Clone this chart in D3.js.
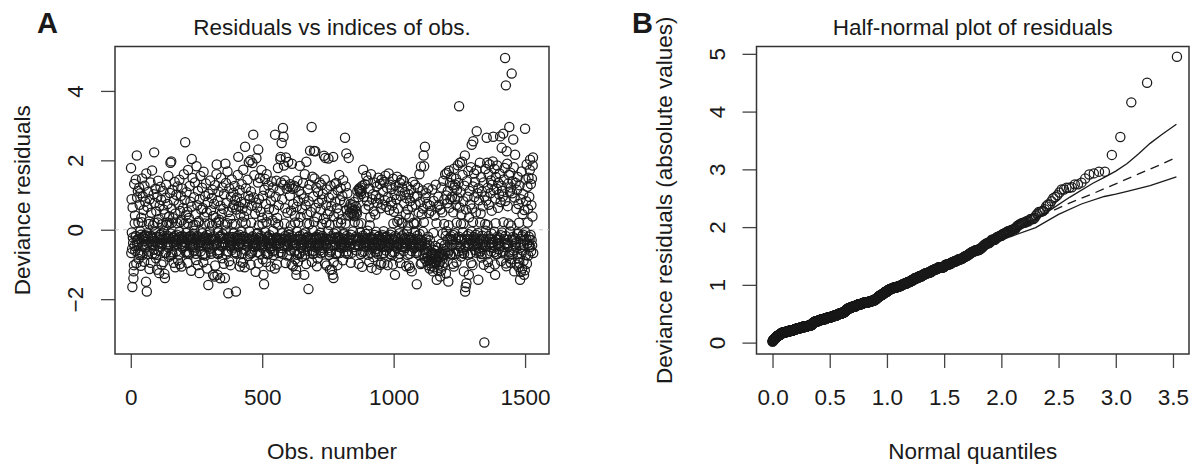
<!DOCTYPE html>
<html>
<head>
<meta charset="utf-8">
<script src="https://cdn.jsdelivr.net/npm/d3@7"></script>
<style>
  body { margin: 0; background: #fff; }
  svg text { font-family: "Liberation Sans", Arial, Helvetica, sans-serif; fill: #1a1a1a; }
</style>
</head>
<body>
<svg id="chart" width="1192" height="468"></svg>
<script>

let residuals = [
 1.78,-.67,.88,-.08,-.55,-1.65,.64,-.22,-.38,-1.4,-1.2,-1.02,1.32,-.47,.19,.41,-.61,-.18,1.45,-.19,-.97,-.33,2.14,.93,-.44,-.27,1.12,-.66,.21,-.84,
 -.36,1.21,-.25,.72,-.73,-.05,1.05,-1.04,-.14,.35,-.66,.22,1.48,-.73,-.2,.96,-.22,-.45,.57,-.33,-.92,1.27,-.18,-.51,.81,-.16,-.27,-1.5,1.62,-.43,
 -1.78,-.1,.66,-.71,-.21,1.09,-.39,-.63,.24,.17,-1.13,.88,-.35,-.17,1.36,-.95,-.41,.49,-.26,-.19,1.71,-.69,-.23,.12,-.45,-.33,1.02,-.57,2.23,.2,
 .77,-.69,-.07,1.18,-.36,-.82,.53,-.2,-.72,-1.15,.95,.21,-.4,1.41,-.25,-.61,.31,-1.25,-.21,.69,-.15,-.49,1.24,-.13,-.28,.86,-1.0,-.42,.16,-.3,
 -.39,1.12,-.27,-.93,.58,-.04,-.19,-1.27,.45,-1.39,-.66,.92,-.24,-.66,1.3,.13,-.45,.21,-.17,.74,-.5,-.36,1.55,-.22,-.78,.39,.18,-.43,1.06,-.26,
 1.93,-.11,-.73,1.97,.61,.2,-.65,1.15,-.71,-.23,.33,-.37,-.95,.84,-.22,-.45,1.38,-.18,-1.08,.47,-.33,-.27,1.01,-.62,-.14,.19,-.42,1.25,-.31,-.88,
 -.25,.73,-.71,-.06,1.44,-.21,-.99,.54,.22,-.41,.98,-.28,-1.06,.27,-.19,1.19,-.52,-.24,.63,-.35,-.47,1.6,.17,-.2,.86,-.43,2.52,-.36,-.64,.42,
 -.09,1.08,-.69,-.27,.52,-.96,.19,1.72,-.22,-.65,.34,-.69,-.29,1.26,-.48,-.2,.81,-.17,-.39,-1.18,.66,2.04,-.31,-.5,1.49,-.26,-.42,.13,-.6,-.12,
 .94,-.03,-.24,1.36,-.51,.14,.45,-.69,-.87,1.83,-.28,-.18,.71,-.21,-1.02,1.12,-.4,.21,.25,-.46,-1.25,.89,-.34,-.25,1.55,-.62,-.37,.58,-.29,-.43,
 1.21,-.1,-.72,.62,-.26,-.94,1.67,-.39,-.2,.37,-.7,.18,.97,-.74,-.23,1.33,-.28,-.42,.5,-.15,-1.12,-.24,.79,-.49,-1.59,1.04,-.3,-.41,.18,-.55,
 -.05,1.42,-.29,-.63,.56,-.69,-.22,.91,.12,-.51,1.15,-.27,-1.3,.4,-.19,-.46,.75,-1.35,-.31,1.28,-1.03,-.25,.35,-.42,.2,1.6,1.88,-.38,-.68,-1.3,
 .83,-.08,-.7,1.1,.22,-.59,.29,-.65,-.21,-1.4,.69,-.17,1.5,-.48,-.26,.47,-.37,-.82,1.22,-.13,-.44,.6,-.24,-.98,1.03,-.36,-.41,-1.39,.15,1.9,
 -.02,1.35,-.71,-.27,.77,-.62,.19,1.68,-.23,-.43,-1.83,.51,-.2,-.91,1.19,-.35,-.25,.32,-.47,-1.02,.95,-.29,-.39,1.45,-.58,.17,.64,-.21,-.45,1.07,
 -.11,.72,-.51,-.28,1.26,-.65,.85,.17,-.66,-1.78,.58,-.24,-.69,.93,-.18,-.3,1.58,-.49,2.1,-.26,.67,-.41,-.14,1.14,-1.06,-.23,.44,-.38,-.92,.8,
 -.06,1.31,-.7,.23,.61,-.27,-.95,1.73,-.21,-.41,.38,-.2,-1.08,.76,2.39,-.43,.18,1.2,-.6,-.37,.55,-.25,-.48,1.44,-.33,-.76,.98,-.4,1.95,-.29,
 -.04,.89,-.71,-.27,2.0,-1.01,1.1,.2,-.67,.69,-.22,-.63,1.92,-.19,-.47,2.74,.93,-.3,-.39,1.57,-.25,-.5,.46,-.36,-1.21,.78,-.28,2.06,-.44,-.12,
 .64,-.65,-.09,1.36,2.31,-.97,.13,.88,-.46,-.24,1.49,-.37,-.69,.52,-.18,-.43,1.72,-.26,-.51,.35,.17,-.85,.98,-.28,-1.3,-.41,-1.57,1.15,-.33,-.47,
 1.46,-.07,-.67,.74,-.93,.22,1.6,-.22,-.7,.41,-.2,-.71,1.28,-.38,-.27,.6,-.49,-.16,1.05,-.24,-.55,-1.06,.84,-.4,-.31,1.39,-.46,-.29,.27,-.62,
 -.03,1.22,-.73,-.26,.57,-.39,-.6,-1.12,2.74,.19,.95,-.44,-.23,1.41,-.22,-1.0,.34,-.28,-.41,1.78,.15,-.67,.71,-.3,-.46,1.13,-.38,-.25,2.03,2.1,
 -.65,1.36,-.29,2.5,-.53,.88,-.1,-.69,2.93,1.3,2.68,-.26,1.85,-.47,.18,1.42,.62,-.18,-.96,2.08,-.22,-.42,1.18,-.34,-.74,.49,-.28,-.45,1.95,-.14,
 -.06,1.25,-.73,-.27,.98,-.39,1.31,-.6,.12,.55,-.24,-1.0,1.9,-.42,-.19,1.18,-1.04,.74,-.37,-.45,1.27,-.29,-.63,.4,.21,-.85,1.22,-.43,-1.15,-1.3,
 .66,-.05,-.72,1.41,-.27,-.92,.83,.2,-.21,1.12,-.69,-.69,1.84,-.17,-.4,.37,-.26,-.52,1.02,-.36,-.78,.59,-.29,-.45,1.35,-.13,-.6,.9,-.41,-1.3,
 -.28,1.6,-.71,-.08,.71,-.24,-.99,1.96,-.39,.19,.44,-.5,-.2,1.17,-.27,-1.71,.82,-.43,.16,1.3,-.62,2.28,-.25,-.4,.51,-.47,-.31,2.96,-.92,-.38,
 1.53,-.02,-.7,.96,-.23,-.61,2.27,.23,1.48,-.29,-.5,2.26,.63,-.66,-.21,1.22,-.26,-1.05,.36,-.44,-.83,1.08,-.15,-.28,.77,-.48,-.39,1.36,-.22,-.6,
 -.09,.58,-.68,-.26,1.29,-.52,.17,.87,-.18,-.45,1.03,-.65,-.24,.31,2.13,-.39,-.34,1.45,-.97,2.07,-.28,-.46,.71,.2,-1.03,1.16,-.4,-.27,.45,-.53,
 -.04,2.05,-.29,.92,-.72,.14,.54,-1.15,-.65,1.27,-.25,-.6,.68,-.19,-1.15,-.44,1.01,-1.3,-.27,2.1,-1.39,-.94,.39,-.11,1.31,-.46,-.23,.81,-.37,-.7,
 1.35,-.07,-.67,.62,-.26,-1.02,1.14,.21,-.2,.47,-.49,-.22,1.58,-.36,-.67,.85,-.41,-.29,1.2,.19,-.52,.3,-.25,-.44,.97,-.37,-.88,1.43,-.13,-.47,
 -.1,.79,-.26,-.5,2.65,-.39,.18,1.25,-.68,2.2,.58,-.18,-.62,1.05,-.28,-.7,.41,-.37,2.07,-.23,.65,-.48,-.31,.5,-.4,.74,-.95,-.14,.45,-.29,
 .62,-.66,.48,.71,-.05,.55,-.27,.43,-.5,.8,.39,.22,.58,-.44,-.25,.67,-.2,.52,-.6,.46,-.31,1.12,-.42,-.28,.94,.17,-.98,1.18,-.24,-.46,
 1.15,1.08,-.08,1.22,-.7,1.03,.19,1.12,-.29,-1.07,1.27,-.65,-.17,1.73,-.23,-.48,.95,-.36,-.62,1.31,-.27,-.43,.6,-.12,-.5,1.55,-.38,-.25,.82,-.44,
 -.03,1.42,-.72,-.28,.7,-.39,-.93,1.19,.13,-.41,.36,-.24,-.66,1.6,-.21,-1.1,-.45,.88,-.29,-.52,1.02,-.37,-.79,.53,-.26,-.43,1.36,-.15,-.48,.44,
 -.65,.98,-.06,-.55,-1.15,1.25,-.36,-.69,.77,-.27,-.62,1.5,-.2,-.19,.9,-.47,-.25,1.32,-.41,-1.01,.62,-.31,-.96,1.44,-.37,-.29,.73,-.5,-.16,1.1,
 -.67,-.04,1.38,-.97,-.36,.85,-.21,-.47,1.56,-.24,-.6,.66,-.39,-.2,1.21,-.45,-1.02,.94,-.3,-.51,1.62,-.37,-.27,.57,-.44,-.7,1.3,-.14,-.41,.81,
 -.07,1.17,-.73,-.26,.7,-.65,-1.0,1.47,.18,-.43,.52,-.29,-.64,1.0,-1.3,-.18,1.28,-.46,-.23,.88,-.36,-.52,1.53,.23,-.42,.61,-.27,-.8,1.12,-.39,
 .29,-.69,-.1,1.35,-.96,-.25,.97,-.41,1.44,.2,-.5,1.22,-.19,.19,-.46,-.28,1.41,-.62,-.13,.76,-.4,-.24,1.08,-.53,-.36,.44,-.29,-1.05,.91,-.43,
 -.05,1.25,-.72,.58,.12,-.27,1.02,-1.03,-.21,.35,-.69,-1.1,.83,-.3,-.41,1.15,-.24,-.61,-1.2,.66,-.36,-.48,1.38,-.29,-.4,.2,-.53,.17,.95,-.45,
 1.3,-.08,-.28,.72,-.5,-.67,.21,-1.57,.98,-.17,-.63,1.21,-.26,-.46,.5,-.38,-.73,1.6,-.12,-.44,.8,-.29,-.99,1.82,-.4,-.95,.44,-.32,-.48,1.13,
 -.06,.61,-.7,2.14,.22,1.83,-.58,-.83,2.39,-.41,.92,-.27,-.67,1.05,-.9,-.38,-.52,.74,-.79,-1.02,-.2,1.2,-.61,-.88,.48,-.45,-1.12,-.3,.69,-.96,
 -.73,-.85,.55,-1.05,-.67,-.91,1.16,-.66,-.78,-1.2,-.09,.83,-.97,-.58,-1.08,.41,-.82,-.47,-.7,1.3,-.93,-.61,.19,-1.44,-.87,.66,-1.16,-.52,-.76,.95,
 -.8,-1.0,-.7,.72,-.68,-.92,-1.35,.58,-.77,-1.18,-.4,1.22,-.63,-.86,.5,-1.06,-.11,-.74,1.41,-.55,-.95,.17,.87,-.7,-.44,1.6,-.62,-.18,-1.26,.99,
 -.04,1.64,.76,-.5,-.28,1.12,-.67,-1.49,.13,1.7,.63,-.6,-.25,1.35,-.71,.88,-.19,-.71,1.52,-.3,-.44,.95,-.27,1.28,-.98,-.15,.5,-.42,-1.06,1.76,
 1.22,-.1,.88,1.3,-.7,-.28,1.47,.71,-.94,.2,1.15,-.41,.93,1.86,-.25,-.62,1.35,-.2,3.56,-.47,.64,1.93,-.3,-.51,1.08,.17,-.77,.44,-.27,1.96,
 -.67,1.58,-.07,-.6,.82,.18,-1.2,-.69,1.27,-.29,2.14,-1.78,-.5,-1.65,.58,-.38,-1.54,1.4,-.18,-.26,.95,-.47,-.72,1.69,-.13,-1.3,.36,-.41,1.12,-.3,
 .73,-.68,-.28,1.8,-.96,-.05,2.45,.61,-.4,-1.02,1.25,.22,2.55,-.47,-.21,1.62,.94,-.25,-.58,1.38,-.42,-.14,.5,-.66,1.72,2.84,-.29,-.45,1.05,-.38,
 -.09,-1.44,1.2,-.52,.85,-.29,-.66,1.93,.21,-.62,.47,-.26,1.51,-.7,-.8,1.1,-.17,-.5,.68,-.4,-.28,1.36,-1.01,-.35,-3.25,.96,-.43,.17,1.75,-.48,
 -.03,.84,-.27,2.65,-.71,1.93,.14,1.21,-.93,-.19,1.6,.72,-.41,-1.1,1.88,-.25,-.5,1.05,-.37,1.42,-.63,-.11,.55,1.3,-.44,-.28,1.97,-.36,2.68,-.52,
 1.14,-.65,-.06,1.75,-1.0,-1.3,.9,.19,1.52,-.27,-.71,1.18,-.7,1.85,-.2,-.42,.63,1.35,-.29,-.56,1.02,-.38,1.62,-.25,2.69,-.47,.8,-.16,-.9,1.27,
 2.36,-.08,1.12,-.68,.96,-.62,2.77,.22,1.45,-.27,-.5,1.78,-.41,4.95,.83,-.18,4.16,-.97,-1.05,2.26,-.38,1.9,-.29,.68,-.46,1.33,.18,-.75,1.58,2.96,
 -.65,1.1,-.05,1.64,-.95,1.22,.12,-.85,4.5,-.28,1.05,-.71,1.4,-.21,2.6,-.6,1.8,-.3,-1.2,.93,-.42,2.16,-.26,1.35,-.51,-.37,.6,-1.0,1.15,-.12,
 -.7,1.52,-.82,-.1,.74,-1.08,.2,-.95,1.28,-.52,-1.44,-.27,.88,-1.22,-.4,-.7,1.68,-.19,-1.12,.45,-.6,-.14,1.02,-.9,-.44,-1.3,.57,-.29,-1.17,2.91,
 -.07,1.45,-.73,.82,-.27,1.88,-.98,-.4,1.24,.21,.6,-.74,1.5,-.2,-.44,.95,-.29,1.72,2.02,-.5,-.15,1.32,-.62,.71,-.3,1.47,-.45,.38,1.85,2.08,-.67
];

// Simulated envelope of the half-normal plot
let envUpperQ = [2.0, 2.2, 2.4, 2.6, 2.8, 2.9, 3.0, 3.1, 3.2, 3.3, 3.4, 3.53];
let envUpper  = [1.80, 2.02, 2.26, 2.52, 2.76, 2.86, 2.97, 3.10, 3.27, 3.45, 3.60, 3.78];
let envMidQ   = [2.0, 2.2, 2.4, 2.6, 2.8, 3.0, 3.2, 3.4, 3.53];
let envMid    = [1.80, 2.04, 2.24, 2.42, 2.58, 2.75, 2.92, 3.09, 3.21];
let envLowerQ = [2.0, 2.1, 2.3, 2.5, 2.7, 2.9, 3.0, 3.1, 3.3, 3.53];
let envLower  = [1.78, 1.85, 1.99, 2.22, 2.40, 2.53, 2.57, 2.62, 2.72, 2.87];

// Tick labels
let ticksA_x = [0, 500, 1000, 1500];
let ticksA_y = [-2, 0, 2, 4];
let ticksB_x = [0, 0.5, 1, 1.5, 2, 2.5, 3, 3.5];
let ticksB_y = [0, 1, 2, 3, 4, 5];

let svg = d3.select("#chart");
svg.append("rect").attr("width", 1192).attr("height", 468).attr("fill", "#fff");

let ink = "#1a1a1a";
let fs = "22.5px";

// inverse normal cdf (Acklam), used for the half-normal quantiles
function qnorm(p) {
    let a = [-3.969683028665376e+01, 2.209460984245205e+02, -2.759285104469687e+02, 1.383577518672690e+02, -3.066479806614716e+01, 2.506628277459239e+00];
    let b = [-5.447609879822406e+01, 1.615858368580409e+02, -1.556989798598866e+02, 6.680131188771972e+01, -1.328068155288572e+01];
    let c = [-7.784894002430293e-03, -3.223964580411365e-01, -2.400758277161838e+00, -2.549732539343734e+00, 4.374664141464968e+00, 2.938163982698783e+00];
    let d = [7.784695709041462e-03, 3.224671290700398e-01, 2.445134137142996e+00, 3.754408661907416e+00];
    let q, r;
    if (p < 0.02425) {
        q = Math.sqrt(-2 * Math.log(p));
        return (((((c[0]*q+c[1])*q+c[2])*q+c[3])*q+c[4])*q+c[5]) / ((((d[0]*q+d[1])*q+d[2])*q+d[3])*q+1);
    }
    if (p <= 1 - 0.02425) {
        q = p - 0.5; r = q * q;
        return (((((a[0]*r+a[1])*r+a[2])*r+a[3])*r+a[4])*r+a[5])*q / (((((b[0]*r+b[1])*r+b[2])*r+b[3])*r+b[4])*r+1);
    }
    q = Math.sqrt(-2 * Math.log(1 - p));
    return -(((((c[0]*q+c[1])*q+c[2])*q+c[3])*q+c[4])*q+c[5]) / ((((d[0]*q+d[1])*q+d[2])*q+d[3])*q+1);
}

function drawPanel(opt) {
    let g = svg.append("g");
    let x = opt.x, y = opt.y;
    let x0 = x.range()[0], x1 = x.range()[1];
    let y0 = y.range()[0], y1 = y.range()[1];

    let xAxis = g.append("g")
        .attr("transform", "translate(0," + y0 + ")")
        .call(d3.axisBottom(x).tickValues(opt.xTicks).tickSize(14).tickFormat(opt.xFmt));
    let yAxis = g.append("g")
        .attr("transform", "translate(" + x0 + ",0)")
        .call(d3.axisLeft(y).tickValues(opt.yTicks).tickSize(14).tickFormat(d3.format("d")));

    [xAxis, yAxis].forEach(function(a) {
        a.select(".domain").remove();
        a.selectAll("line").attr("stroke", "#444").attr("stroke-width", 1.3);
        a.selectAll("text").style("font-size", fs).attr("fill", ink).attr("font-family", null);
    });
    xAxis.selectAll("text").attr("y", 51).attr("dy", null);
    yAxis.selectAll("text")
        .attr("x", null).attr("dy", null)
        .attr("text-anchor", "middle")
        .attr("transform", "translate(-32,0) rotate(-90)");

    // box
    g.append("rect")
        .attr("x", x0).attr("y", y1)
        .attr("width", x1 - x0).attr("height", y0 - y1)
        .attr("fill", "none").attr("stroke", "#333").attr("stroke-width", 1.5);

    // titles
    g.append("text")
        .attr("x", (x0 + x1) / 2).attr("y", 35)
        .attr("text-anchor", "middle").style("font-size", fs)
        .text(opt.title);
    g.append("text")
        .attr("x", (x0 + x1) / 2).attr("y", 459)
        .attr("text-anchor", "middle").style("font-size", fs)
        .text(opt.xLabel);
    g.append("text")
        .attr("transform", "translate(" + (x0 - 85) + "," + ((y0 + y1) / 2) + ") rotate(-90)")
        .attr("text-anchor", "middle").style("font-size", fs)
        .text(opt.yLabel);
    g.append("text")
        .attr("x", opt.letterX).attr("y", 33)
        .style("font-size", "29px").style("font-weight", "bold").attr("fill", "#000")
        .text(opt.letter);

    return g;
}

// ---- Panel A ----
let xA = d3.scaleLinear().domain([-60, 1591]).range([115, 549]);
let yA = d3.scaleLinear().domain([-3.58, 5.28]).range([354, 46.5]);

let gA = drawPanel({
    x: xA, y: yA, xTicks: ticksA_x, yTicks: ticksA_y, xFmt: d3.format("d"),
    title: "Residuals vs indices of obs.", xLabel: "Obs. number",
    yLabel: "Deviance residuals", letter: "A", letterX: 37
});

gA.append("line")
    .attr("x1", xA.range()[0]).attr("x2", xA.range()[1])
    .attr("y1", yA(0)).attr("y2", yA(0))
    .attr("stroke", "#c8c8c8").attr("stroke-width", 1).attr("stroke-dasharray", "4,4");

gA.append("g").selectAll("circle")
    .data(residuals)
    .enter().append("circle")
    .attr("cx", function(d, i) { return xA(i + 1); })
    .attr("cy", function(d) { return yA(d); })
    .attr("r", 4.6)
    .attr("fill", "none").attr("stroke", ink).attr("stroke-width", 1.25);

// ---- Panel B ----
let n = residuals.length;
let absSorted = residuals.map(Math.abs).sort(d3.ascending);
let halfNormal = absSorted.map(function(v, i) {
    return { q: qnorm((i + 1 + n - 1 / 8) / (2 * n + 1 / 2)), v: v };
});

let xB = d3.scaleLinear().domain([-0.14, 3.64]).range([756.5, 1189]);
let yB = d3.scaleLinear().domain([-0.197, 5.127]).range([354, 46.5]);

let gB = drawPanel({
    x: xB, y: yB, xTicks: ticksB_x, yTicks: ticksB_y, xFmt: d3.format(".1f"),
    title: "Half-normal plot of residuals", xLabel: "Normal quantiles",
    yLabel: "Deviance residuals (absolute values)", letter: "B", letterX: 632
});

gB.append("g").selectAll("circle")
    .data(halfNormal)
    .enter().append("circle")
    .attr("cx", function(d) { return xB(d.q); })
    .attr("cy", function(d) { return yB(d.v); })
    .attr("r", 4.6)
    .attr("fill", "none").attr("stroke", ink).attr("stroke-width", 1.25);

let envLine = d3.line()
    .x(function(d) { return xB(d[0]); })
    .y(function(d) { return yB(d[1]); });

[[envUpperQ, envUpper, null], [envMidQ, envMid, "9,6"], [envLowerQ, envLower, null]].forEach(function(e) {
    gB.append("path")
        .attr("d", envLine(d3.zip(e[0], e[1])))
        .attr("fill", "none").attr("stroke", ink).attr("stroke-width", 1.3)
        .attr("stroke-dasharray", e[2]);
});

</script>
</body>
</html>
